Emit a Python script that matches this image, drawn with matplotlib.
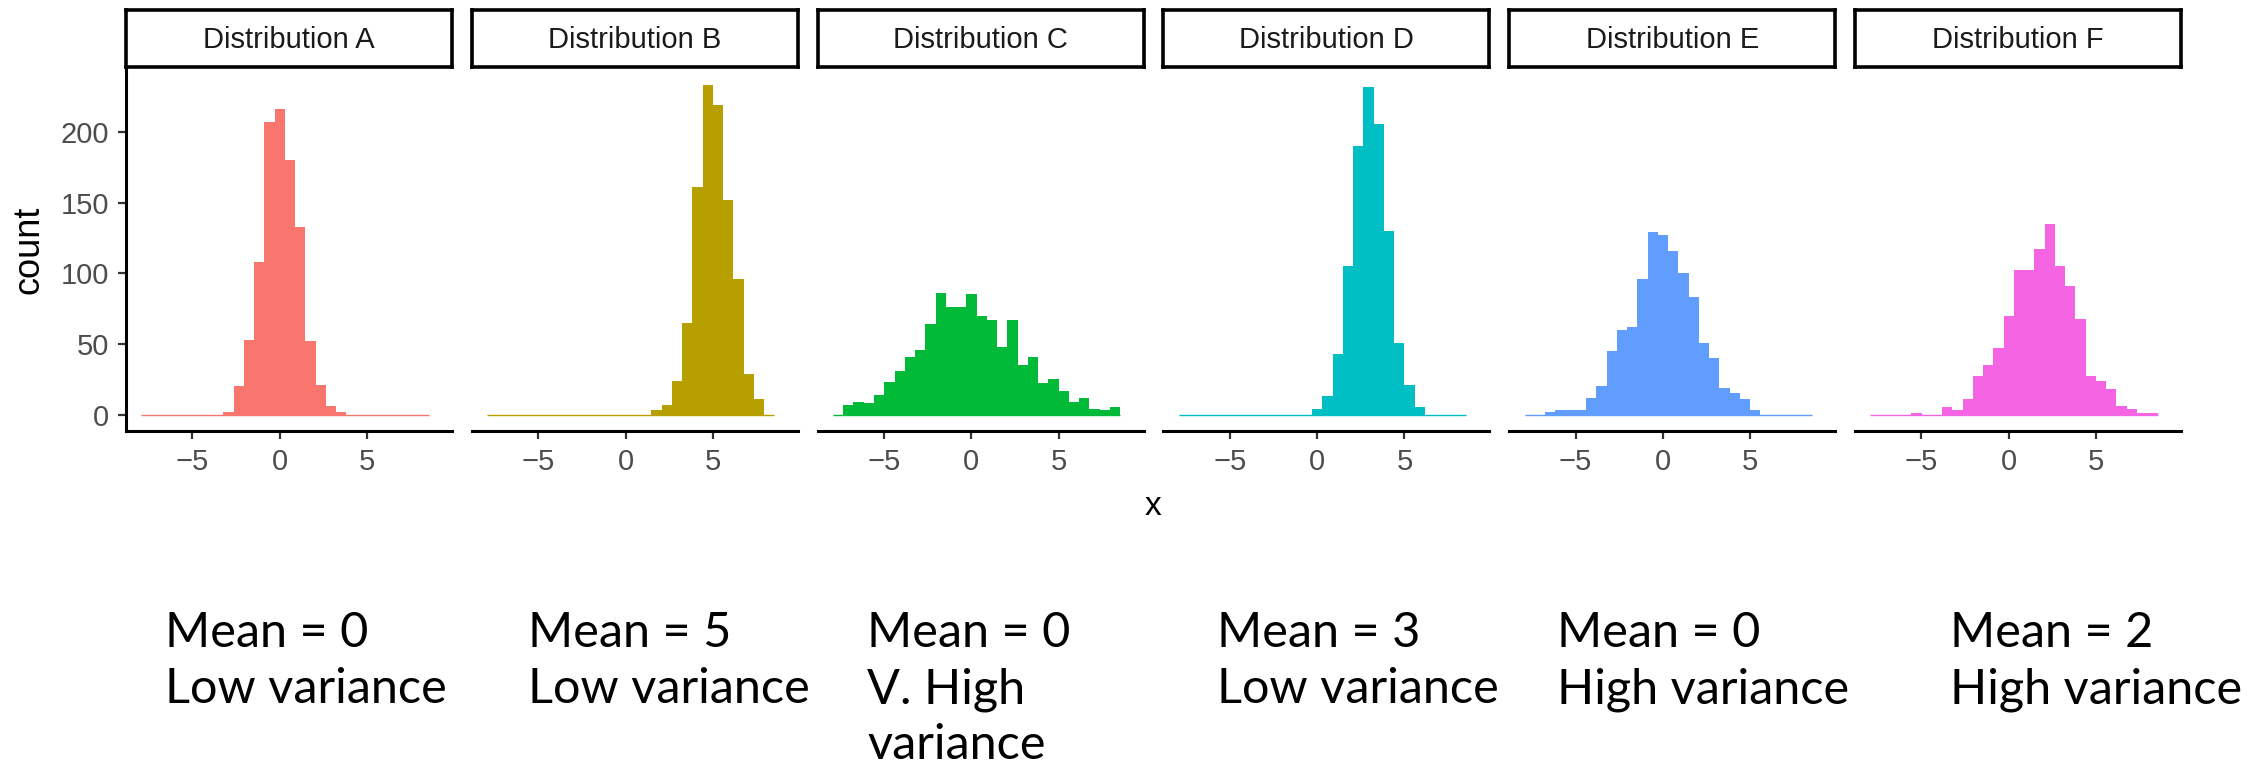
import numpy as np
import matplotlib.pyplot as plt

# histogram counts, 28 shared bins
bin_start = -7.92
bin_width = 0.587

labels = ['Distribution A', 'Distribution B', 'Distribution C',
          'Distribution D', 'Distribution E', 'Distribution F']
colors = ['#F8766D', '#B79F00', '#00BA38', '#00BFC4', '#619CFF', '#F564E3']

counts_a = [0]*8 + [2, 20, 53, 108, 207, 216, 180, 133, 52, 21, 6, 2] + [0]*8
counts_b = [0]*16 + [3, 7, 24, 65, 161, 233, 219, 152, 96, 29, 11] + [0]
counts_c = [0] + [7, 9, 8, 14, 23, 31, 41, 46, 64, 86, 76, 76, 85, 70, 67, 48,
                  67, 35, 41, 22, 25, 17, 9, 12, 4, 3, 5]
counts_d = [0]*13 + [4, 13, 43, 105, 190, 232, 206, 130, 51, 21, 5] + [0]*4
counts_e = [0]*2 + [2, 3, 3, 3, 12, 20, 45, 60, 62, 96, 129, 127, 116, 100, 83,
                    51, 40, 19, 15, 11, 3] + [0]*5
counts_f = [0]*4 + [1, 0, 0] + [5, 3, 11, 27, 35, 47, 70, 102, 102, 117, 135,
                                105, 91, 68, 27, 24, 18, 6, 4, 1, 1]
all_counts = [counts_a, counts_b, counts_c, counts_d, counts_e, counts_f]

notes = ['Mean = 0\nLow variance', 'Mean = 5\nLow variance',
         'Mean = 0\nV. High\nvariance', 'Mean = 3\nLow variance',
         'Mean = 0\nHigh variance', 'Mean = 2\nHigh variance']
note_x = [165, 528, 867, 1217, 1557, 1950]  # left edge of each note, px

x_ticks = [-5, 0, 5]
y_ticks = [0, 50, 100, 150, 200]

W, H = 2251, 763
plt.rcParams['font.family'] = ['Liberation Sans', 'DejaVu Sans']
fig = plt.figure(figsize=(W / 100, H / 100), dpi=100)

edges = bin_start + bin_width * np.arange(len(counts_a) + 1)

for i, (counts, color, label) in enumerate(zip(all_counts, colors, labels)):
    left = 126 + i * 345.8
    ax = fig.add_axes([left / W, (H - 431) / H, 326 / W, 362 / H])
    ax.bar(edges[:-1], counts, width=bin_width, align='edge',
           color=color, linewidth=0)
    ax.hlines(0, edges[0], edges[-1], color=color, lw=1)
    ax.set_xlim(-8.8, 9.86)
    ax.set_ylim(-11.65, 244.65)
    ax.set_xticks(x_ticks)
    ax.tick_params(axis='both', labelsize=21, colors='#333333', length=6,
                   width=1.6, pad=6, labelcolor='#4d4d4d')
    for s in ['top', 'right']:
        ax.spines[s].set_visible(False)
    ax.spines['bottom'].set_linewidth(2.2)
    if i == 0:
        ax.set_yticks(y_ticks)
        ax.spines['left'].set_linewidth(2.2)
    else:
        ax.set_yticks([])
        ax.spines['left'].set_visible(False)

    # facet strip
    sax = fig.add_axes([left / W, (H - 67) / H, 326 / W, 57 / H])
    sax.set_xticks([])
    sax.set_yticks([])
    for s in sax.spines.values():
        s.set_linewidth(2.6)
    sax.text(0.5, 0.47, label, ha='center', va='center', fontsize=21,
             color='#1a1a1a', transform=sax.transAxes)

    # annotation below each panel, one line at a time
    for k, line in enumerate(notes[i].split('\n')):
        fig.text(note_x[i] / W, (H - 647 - 56 * k) / H, line, family='Lato',
                 fontsize=35, va='baseline', ha='left')

fig.text(29 / W, (H - 250) / H, 'count', rotation=90, ha='center',
         va='center', fontsize=26)
fig.text(1153 / W, (H - 515) / H, 'x', ha='center', va='baseline',
         fontsize=24)

fig.savefig('out.png', dpi=100)
